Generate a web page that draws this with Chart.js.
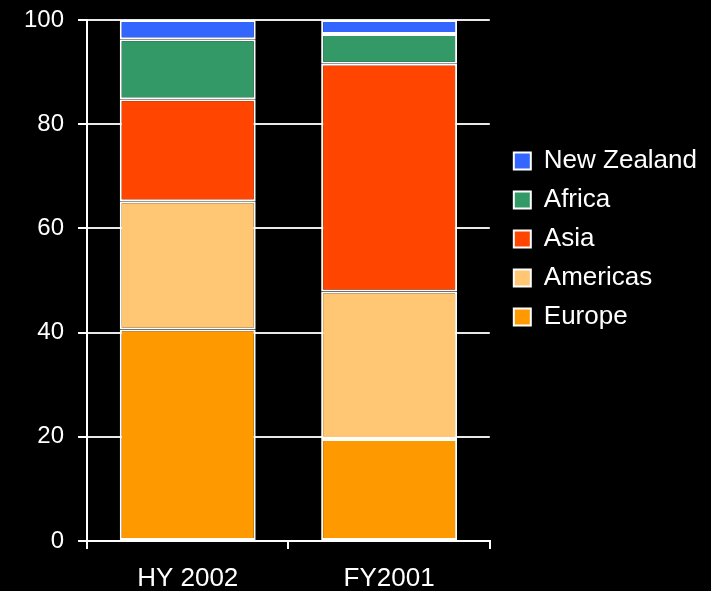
<!DOCTYPE html>
<html>
<head>
<meta charset="utf-8">
<script src="https://cdn.jsdelivr.net/npm/chart.js@4.4.1/dist/chart.umd.min.js"></script>
<style>
  html, body { margin: 0; padding: 0; background: #000; }
  #wrap { width: 711px; height: 591px; }
</style>
</head>
<body>
<div id="wrap"><canvas id="c" width="711" height="591"></canvas></div>
<script>
// Share of visitors by region, per period (percent of total)
const categories = ['HY 2002', 'FY2001'];
const europe     = [40.6, 19.6];
const americas   = [24.6, 28.3];
const asia       = [19.6, 43.7];
const africa     = [11.5, 5.7];
const newZealand = [3.7, 2.7];
const yTicks     = [0, 20, 40, 60, 80, 100];

const FONT = "'Liberation Sans', Arial, Helvetica, sans-serif";

// nudge the legend block into its place beside the plot
const legendOffset = {
  id: 'legendOffset',
  afterLayout(chart) {
    const lg = chart.legend;
    if (!lg) return;
    const dx = 11, dy = 123;
    lg.left += dx; lg.right += dx;
    lg.top += dy; lg.bottom += dy;
  }
};

const seg = (label, data, color) => ({
  label, data,
  backgroundColor: color,
  borderColor: '#ffffff',
  borderWidth: 2,
  borderSkipped: false,
  barPercentage: 0.675,
  categoryPercentage: 1.0
});

new Chart(document.getElementById('c'), {
  type: 'bar',
  data: {
    labels: categories,
    datasets: [
      seg('Europe', europe, '#FF9900'),
      seg('Americas', americas, '#FFC673'),
      seg('Asia', asia, '#FF4500'),
      seg('Africa', africa, '#339966'),
      seg('New Zealand', newZealand, '#3366FF')
    ]
  },
  options: {
    responsive: false,
    animation: false,
    layout: { padding: { top: 12, left: 10, right: 15, bottom: -18 } },
    plugins: {
      tooltip: { enabled: false },
      legend: {
        position: 'right',
        align: 'start',
        reverse: true,
        maxWidth: 240,
        labels: {
          color: '#ffffff',
          font: { family: FONT, size: 26 },
          boxWidth: 17,
          boxHeight: 17,
          padding: 13
        }
      }
    },
    scales: {
      x: {
        stacked: true,
        grid: {
          display: true,
          drawOnChartArea: false,
          color: '#ffffff',
          lineWidth: 2,
          tickLength: 8
        },
        border: { color: '#ffffff', width: 2 },
        ticks: {
          color: '#ffffff',
          font: { family: FONT, size: 26, lineHeight: 1.0 },
          padding: 17,
          maxRotation: 0,
          minRotation: 0
        }
      },
      y: {
        stacked: true,
        min: 0,
        max: 100,
        afterBuildTicks(scale) { scale.ticks = yTicks.map(v => ({ value: v })); },
        grid: {
          color: '#e8e8e8',
          lineWidth: 2,
          tickLength: 9,
          tickColor: '#ffffff'
        },
        border: { color: '#ffffff', width: 2 },
        ticks: {
          color: '#ffffff',
          font: { family: FONT, size: 24, lineHeight: 0.5 },
          padding: 14
        }
      }
    }
  },
  plugins: [legendOffset]
});
</script>
</body>
</html>
